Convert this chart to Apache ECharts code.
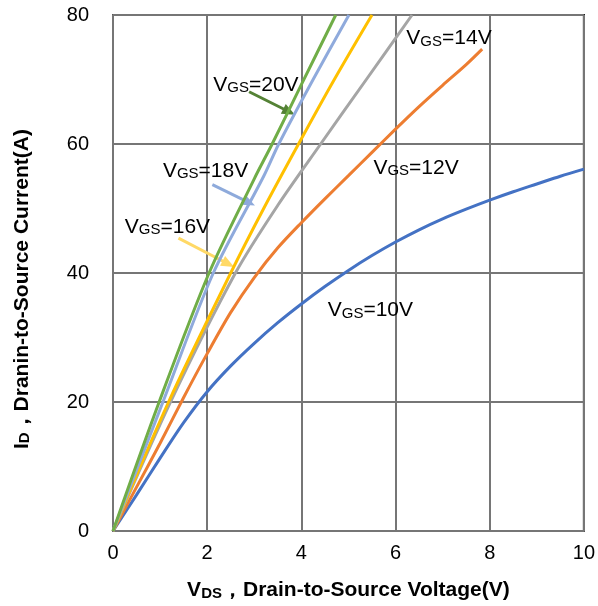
<!DOCTYPE html>
<html>
<head>
<meta charset="utf-8">
<script src="https://cdn.jsdelivr.net/npm/echarts@6/dist/echarts.min.js"></script>
<style>html,body{margin:0;padding:0;background:#fff;}#c{width:598px;height:606px;}</style>
</head>
<body>
<div id="c"></div>
<script>
// ---- data (VDS in V, ID in A) ----
const xTicks = [0, 2, 4, 6, 8, 10];
const yTicks = [0, 20, 40, 60, 80];
const vgs20 = [[0,0],[0.98,20],[2.04,40],[3.0,54.6],[3.38,60],[4.0,69.2],[4.73,80]];
const vgs18 = [[0,0],[1.06,20],[2.13,40],[3.2,55],[3.52,60],[4.25,70],[5.01,80]];
const vgs16 = [[0,0],[1.18,20],[2.5,40],[3.2,50],[3.94,60],[4.7,70],[5.5,80]];
const vgs14 = [[0,0],[1.22,20],[2.6,40],[3.5,50.5],[4.41,60],[5.38,70],[6.35,80]];
const vgs12 = [[0,0],[0.5,6.8],[1,13.6],[1.5,20.7],[2,27.5],[2.5,33.9],[3,39.3],[3.5,43.9],[4,47.8],[4.5,51.5],[5,55.1],[5.5,58.7],[6,62.3],[6.5,65.8],[7,69.1],[7.5,72.3],[7.84,74.7]];
const vgs10 = [[0,0],[0.5,5.6],[1,11.3],[1.5,16.8],[2,21.6],[2.5,25.6],[3,29.1],[3.5,32.3],[4,35.2],[4.5,37.9],[5,40.4],[5.5,42.7],[6,44.8],[6.5,46.7],[7,48.4],[7.5,49.9],[8,51.3],[8.5,52.6],[9,53.8],[9.5,55],[10,56.1]];
const seriesNames = ['VGS=20V','VGS=18V','VGS=16V','VGS=14V','VGS=12V','VGS=10V'];
const labelVolts = ['20V','18V','16V','14V','12V','10V'];
// label anchors (left-middle) in data coords
const labelPos = [[2.13,69.4],[1.06,56.0],[0.25,47.4],[6.23,76.6],[5.53,56.5],[4.56,34.4]];
// arrows in data coords: [from, to]
const arrow20 = [[2.89,68.1],[3.74,65.0]];
const arrow18 = [[2.11,53.7],[2.89,50.9]];
const arrow16 = [[1.39,45.4],[2.45,41.4]];

const FONT = "'Liberation Sans', Arial, sans-serif";
const colors = ['#70ad47','#8faadc','#ffc000','#a5a5a5','#ed7d31','#4472c4'];
const data = [vgs20, vgs18, vgs16, vgs14, vgs12, vgs10];

const chart = echarts.init(document.getElementById('c'), null, {renderer:'canvas'});

function arrowLine(a, color){
  return {
    silent: true, symbol: ['none','triangle'], symbolSize: [11,13],
    label: {show:false},
    lineStyle: {color: color, width: 3, type: 'solid'},
    data: [[{coord: a[0]}, {coord: a[1]}]]
  };
}
const arrows = [arrow20, arrow18, arrow16];
const arrowColors = ['#548235','#8eaadb','#ffd966'];

const series = data.map((d, i) => ({
  name: seriesNames[i], type: 'line', data: d, smooth: 0.3, showSymbol: false,
  lineStyle: {color: colors[i], width: 3}, itemStyle: {color: colors[i]}, z: 10 - i,
  markLine: i < 3 ? arrowLine(arrows[i], arrowColors[i]) : undefined
}));

const titleRich = {
  b: {fontSize: 21, fontWeight: 'bold', fontFamily: FONT, color: '#000', fill: '#000', verticalAlign: 'bottom', lineHeight: 25},
  s: {fontSize: 15, fontWeight: 'bold', fontFamily: FONT, color: '#000', fill: '#000', verticalAlign: 'bottom', lineHeight: 22}
};

chart.setOption({
  animation: false,
  grid: {left: 113, right: 12, top: 15, bottom: 73, show: true, borderColor: '#000', borderWidth: 2},
  xAxis: [{
    type: 'value', min: 0, max: 10, interval: 2,
    axisLine: {show: true, lineStyle: {color: '#767676', width: 2}},
    axisTick: {show: false},
    splitLine: {show: true, lineStyle: {color: '#767676', width: 2}},
    axisLabel: {color: '#000', fontSize: 20, fontFamily: FONT, margin: 12},
    name: '{b|V}{s|DS}{b|，Drain-to-Source Voltage(V)}',
    nameLocation: 'middle', nameGap: 45,
    nameTextStyle: {rich: titleRich}
  }],
  yAxis: [{
    type: 'value', min: 0, max: 80, interval: 20,
    axisLine: {show: true, lineStyle: {color: '#767676', width: 2}},
    axisTick: {show: false},
    splitLine: {show: true, lineStyle: {color: '#767676', width: 2}},
    axisLabel: {color: '#000', fontSize: 20, fontFamily: FONT, margin: 24}
  }],
  series: series
});

// annotations positioned from data coordinates
const graphics = [];
labelPos.forEach((p, i) => {
  const px = chart.convertToPixel({gridIndex: 0}, p);
  graphics.push({
    type: 'text', x: px[0], y: px[1], z: 100,
    style: {
      text: '{a|V}{s|GS}{a|=' + labelVolts[i] + '}',
      verticalAlign: 'middle', align: 'left',
      rich: {
        a: {fontSize: 21, fontFamily: FONT, fill: '#000', verticalAlign: 'bottom', lineHeight: 24},
        s: {fontSize: 15, fontFamily: FONT, fill: '#000', verticalAlign: 'bottom', lineHeight: 22}
      }
    }
  });
});
// y axis title
const yc = chart.convertToPixel({gridIndex: 0}, [0, 37.5]);
graphics.push({
  type: 'text', x: 20, y: yc[1], rotation: Math.PI / 2, z: 100,
  style: {
    text: '{b|I}{s|D}{b|，Dranin-to-Source Current(A)}',
    align: 'center', verticalAlign: 'middle',
    rich: titleRich
  }
});
chart.setOption({graphic: graphics});
</script>
</body>
</html>
